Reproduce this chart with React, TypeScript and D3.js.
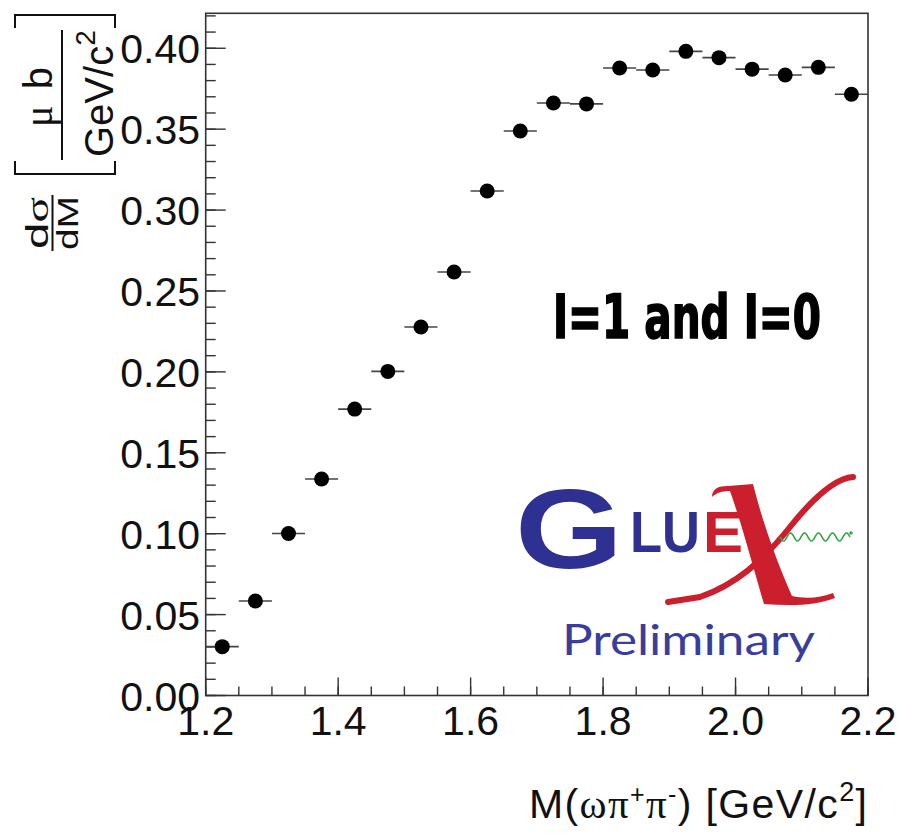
import { useEffect, useRef } from "react";
import * as d3 from "d3";

const W = 903, H = 835;
const FRAME = { left: 205.7, right: 868, top: 13.3, bottom: 695.5 };
const FONT = "'Liberation Sans', Arial, Helvetica, sans-serif";
const SERIF = "'Liberation Serif', 'Times New Roman', serif";

// bin centres (GeV/c^2) and dsigma/dM values (ub / GeV/c^2)
const binCenters = [1.225, 1.275, 1.325, 1.375, 1.425, 1.475, 1.525, 1.575, 1.625, 1.675,
  1.725, 1.775, 1.825, 1.875, 1.925, 1.975, 2.025, 2.075, 2.125, 2.175];
const xsec = [0.0302, 0.0584, 0.1001, 0.1338, 0.177, 0.2003, 0.2277, 0.2617, 0.3118, 0.3489,
  0.3662, 0.3656, 0.3878, 0.3866, 0.3981, 0.3942, 0.3871, 0.3835, 0.3882, 0.3716];
const binHalfWidth = 0.025;

const xTicks = [1.2, 1.4, 1.6, 1.8, 2.0, 2.2];
const yTicks = [0, 0.05, 0.1, 0.15, 0.2, 0.25, 0.3, 0.35, 0.4];
const xDomain = [1.2, 2.2];
const yDomain = [0, 0.4216];

export default function App() {
  const svgRef = useRef<SVGSVGElement>(null);

  useEffect(() => {
    const svg = d3.select(svgRef.current);
    svg.selectAll("*").remove();

    const x = d3.scaleLinear().domain(xDomain).range([FRAME.left, FRAME.right]);
    const y = d3.scaleLinear().domain(yDomain).range([FRAME.bottom, FRAME.top]);

    const g = svg.append("g");

    // minor + major ticks, drawn inward like ROOT
    const xMinor = d3.range(1.2, 2.2001, 0.05);
    g.selectAll(".xminor").data(xMinor).join("line")
      .attr("x1", d => x(d)).attr("x2", d => x(d))
      .attr("y1", FRAME.bottom).attr("y2", FRAME.bottom - 9)
      .attr("stroke", "#333").attr("stroke-width", 1.4);
    g.selectAll(".xmajor").data(xTicks).join("line")
      .attr("x1", d => x(d)).attr("x2", d => x(d))
      .attr("y1", FRAME.bottom).attr("y2", FRAME.bottom - 18)
      .attr("stroke", "#333").attr("stroke-width", 1.4);

    const yMinor = d3.range(0, 0.4216, 0.01);
    g.selectAll(".yminor").data(yMinor).join("line")
      .attr("x1", FRAME.left).attr("x2", FRAME.left + 10)
      .attr("y1", d => y(d)).attr("y2", d => y(d))
      .attr("stroke", "#333").attr("stroke-width", 1.4);
    g.selectAll(".ymajor").data(yTicks).join("line")
      .attr("x1", FRAME.left).attr("x2", FRAME.left + 20)
      .attr("y1", d => y(d)).attr("y2", d => y(d))
      .attr("stroke", "#333").attr("stroke-width", 1.4);

    // frame
    g.append("rect")
      .attr("x", FRAME.left).attr("y", FRAME.top)
      .attr("width", FRAME.right - FRAME.left).attr("height", FRAME.bottom - FRAME.top)
      .attr("fill", "none").attr("stroke", "#333").attr("stroke-width", 1.6);

    // tick labels
    g.selectAll(".xlab").data(xTicks).join("text")
      .attr("x", d => x(d)).attr("y", 735)
      .attr("text-anchor", "middle").attr("font-family", FONT).attr("font-size", 41)
      .attr("fill", "#111").text(d => d3.format(".1f")(d));
    g.selectAll(".ylab").data(yTicks).join("text")
      .attr("x", 200).attr("y", d => y(d) + 15)
      .attr("text-anchor", "end").attr("font-family", FONT).attr("font-size", 41)
      .attr("fill", "#111").text(d => d3.format(".2f")(d));

    // data: x error bars + markers
    const pts = binCenters.map((c, i) => ({ c, v: xsec[i] }));
    g.selectAll(".err").data(pts).join("line")
      .attr("x1", d => x(d.c - binHalfWidth)).attr("x2", d => x(d.c + binHalfWidth))
      .attr("y1", d => y(d.v)).attr("y2", d => y(d.v))
      .attr("stroke", "#444").attr("stroke-width", 1.6);
    g.selectAll(".dot").data(pts).join("circle")
      .attr("cx", d => x(d.c)).attr("cy", d => y(d.v)).attr("r", 7.5)
      .attr("fill", "#000");
  }, []);

  // green gluon squiggle of the logo
  const wave: [number, number][] = [];
  for (let i = 0; i <= 80; i++) {
    const t = i / 80;
    wave.push([780 + t * 70, 537 + 4 * Math.sin(t * Math.PI * 10)]);
  }
  const wavePath = d3.line()(wave) || "";

  return (
    <div style={{ position: "absolute", left: 0, top: 0, width: W, height: H, background: "#fff" }}>
      <svg ref={svgRef} width={W} height={H} style={{ display: "block", position: "absolute", left: 0, top: 0 }} />
      <svg width={W} height={H} style={{ display: "block", position: "absolute", left: 0, top: 0 }}>
        {/* y axis title, rotated */}
        <g transform="rotate(-90)" fill="#111" fontFamily={FONT}>
          <text x={-223} y={48} fontSize={31} textAnchor="middle" textLength={52} lengthAdjust="spacingAndGlyphs">
            d<tspan fontFamily={SERIF}>σ</tspan>
          </text>
          <line x1={-251} x2={-195} y1={52.5} y2={52.5} stroke="#111" strokeWidth={2} />
          <text x={-223} y={78} fontSize={30} textAnchor="middle" textLength={54} lengthAdjust="spacingAndGlyphs">dM</text>

          <path d="M -161 15 L -174 15 L -174 115 L -161 115" fill="none" stroke="#111" strokeWidth={2} />
          <path d="M -28 15 L -15 15 L -15 115 L -28 115" fill="none" stroke="#111" strokeWidth={2} />

          <text x={-97} y={52} fontSize={40} textAnchor="middle" textLength={60} lengthAdjust="spacing">
            <tspan fontFamily={SERIF}>μ</tspan> b
          </text>
          <line x1={-160} x2={-30} y1={62} y2={62} stroke="#111" strokeWidth={2} />
          <text x={-157} y={113} fontSize={40}>
            GeV/c<tspan fontSize={28} dy={-18}>2</tspan>
          </text>
        </g>

        {/* x axis title */}
        <text x={867} y={818} fontSize={41} textAnchor="end" fontFamily={FONT} fill="#111"
          textLength={338} lengthAdjust="spacing">
          M(<tspan fontFamily={SERIF}>ωπ</tspan><tspan fontSize={25} dy={-15}>+</tspan><tspan fontFamily={SERIF} dy={15}>π</tspan><tspan fontSize={25} dy={-15}>-</tspan><tspan dy={15}>) [GeV/c</tspan><tspan fontSize={27} dy={-17}>2</tspan><tspan dy={17}>]</tspan>
        </text>

        {/* annotation */}
        <text x={553} y={338} fontSize={60} fontWeight="bold" fill="#000" stroke="#000" strokeWidth={1.6}
          fontFamily="'DejaVu Sans Condensed', 'Liberation Sans Narrow', 'DejaVu Sans', sans-serif"
          textLength={268} lengthAdjust="spacingAndGlyphs">I=1 and I=0</text>

        {/* GlueX logo */}
        <g>
          <text x={515} y={568} fontSize={114} fontWeight="bold" fill="#2e3192" fontFamily={FONT}
            textLength={108} lengthAdjust="spacingAndGlyphs">G</text>
          <text x={630} y={552} fontSize={58} fontWeight="bold" fill="#2e3192" fontFamily={FONT}
            textLength={70} lengthAdjust="spacingAndGlyphs">LU</text>
          <text x={703} y={552} fontSize={58} fontWeight="bold" fill="#cc1f2e" fontFamily={FONT}
            textLength={40} lengthAdjust="spacingAndGlyphs">E</text>
          <path d="M 712 497 C 712 489, 718 486, 728 486 L 753 484 C 762 520, 776 560, 792 596 C 806 599, 820 598, 833 593 L 835 598 C 815 606, 790 606, 764 604 C 754 570, 742 525, 730 491 C 722 491, 716 493, 712 497 Z"
            fill="#cc1f2e" />
          <path d="M 853 477 C 838 478, 818 492, 790 527 S 735 585, 700 597 L 668 602"
            fill="none" stroke="#cc1f2e" strokeWidth={6} strokeLinecap="round" />
          <path d={wavePath} fill="none" stroke="#3aa64a" strokeWidth={1.6} />
          <circle cx={851} cy={533} r={1.8} fill="#3aa64a" />
          <text x={562} y={655} fontSize={42} fill="#3a3d9c" fontFamily="Lato, 'Open Sans', sans-serif"
            textLength={253} lengthAdjust="spacingAndGlyphs">Preliminary</text>
        </g>
      </svg>
    </div>
  );
}
